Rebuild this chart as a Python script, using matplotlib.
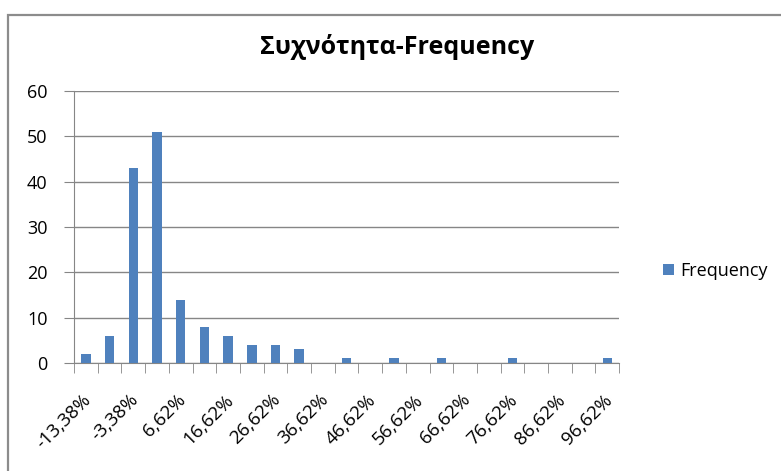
import matplotlib.pyplot as plt
from matplotlib.patches import Rectangle
from matplotlib.transforms import ScaledTranslation

# histogram bins (lower edge of each 5% bin) and counts
bins = [-13.38 + 5 * k for k in range(23)]
counts = [2, 6, 43, 51, 14, 8, 6, 4, 4, 3, 0, 1, 0, 1, 0, 1, 0, 0, 1, 0, 0, 0, 1]
title = "Συχνότητα-Frequency"
series_name = "Frequency"

BLUE = "#4F81BD"
GRID = "#868686"


def pct(v):
    return f"{v:.2f}%".replace(".", ",")


def main():
    plt.rcParams["font.family"] = ["Open Sans", "DejaVu Sans"]
    fig = plt.figure(figsize=(7.81, 4.71), dpi=100)
    ax = fig.add_axes([0.0948, 0.2293, 0.698, 0.5775])

    # chart frame
    fig.patches.append(Rectangle((0.0102, -0.1), 1.1, 1.068, transform=fig.transFigure,
                                 fill=False, edgecolor="#8c8c8c", linewidth=1.6))

    x = list(range(len(bins)))
    ax.bar(x, counts, width=0.4, color=BLUE, label=series_name, zorder=3)

    ax.set_xlim(-0.5, len(bins) - 0.5)
    ax.set_ylim(0, 60)
    ax.set_yticks(range(0, 61, 10))
    ax.yaxis.grid(True, color=GRID, linewidth=1.0, zorder=0)

    for s in ["top", "right"]:
        ax.spines[s].set_visible(False)
    ax.spines["left"].set_color(GRID)
    ax.spines["bottom"].set_color(GRID)

    # category boundaries carry the tick marks, labels every second bin
    ax.set_xticks([i - 0.5 for i in range(len(bins) + 1)], minor=True)
    ax.set_xticks(x[::2])
    ax.set_xticklabels([pct(b) for b in bins[::2]], rotation=45, ha="right",
                       rotation_mode="anchor", fontsize=13.5)
    ax.tick_params(axis="x", which="major", length=0, pad=20)
    ax.tick_params(axis="x", which="minor", length=7, color=GRID)
    ax.tick_params(axis="y", length=7, color=GRID, labelsize=13, pad=12)

    # nudge the slanted labels a few pixels left
    shift = ScaledTranslation(-4 / 100, 0, fig.dpi_scale_trans)
    for lbl in ax.get_xticklabels():
        lbl.set_transform(lbl.get_transform() + shift)

    fig.text(0.508, 0.9, title, ha="center", va="center", fontsize=18, fontweight="bold")
    fig.legend(loc="center left", bbox_to_anchor=(0.828, 0.425), frameon=False,
               fontsize=13, handlelength=0.6, handleheight=0.6, handletextpad=0.35)

    fig.savefig("out.png", dpi=100)


if __name__ == "__main__":
    main()
